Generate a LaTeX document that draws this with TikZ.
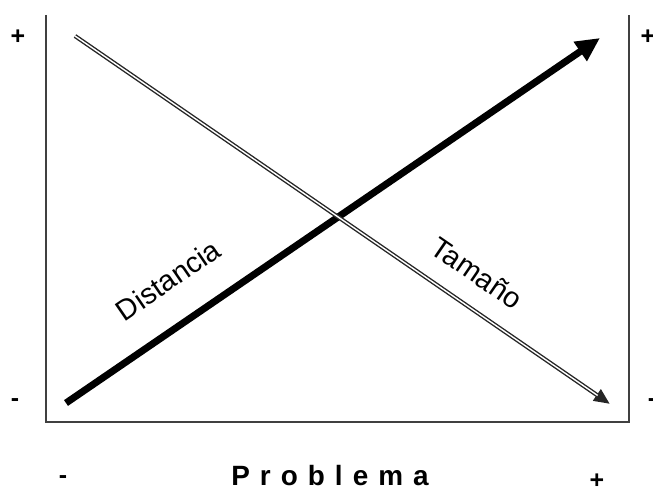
\documentclass[tikz,border=0pt]{standalone}
\usepackage{fontspec}
\setmainfont{Liberation Sans}
\usetikzlibrary{arrows.meta}
\begin{document}
\begin{tikzpicture}[x=1bp,y=-1bp,
  axisline/.style={draw=black!75,line width=1.4bp},
  sign/.style={font=\fontsize{25}{28}\selectfont\bfseries,inner sep=0pt},
  lbl/.style={font=\fontsize{29}{32}\selectfont,inner sep=0pt}]
\useasboundingbox (0,0) rectangle (653,489);
% frame
\coordinate (tl) at (46,15);
\coordinate (bl) at (46,422);
\coordinate (br) at (629,422);
\coordinate (tr) at (629,15);
\draw[axisline] (tl) -- (bl) -- (br) -- (tr);
% arrows
\coordinate (ds) at (66,403);
\coordinate (de) at (600,38);
\coordinate (ts) at (75,36);
\coordinate (te) at (610,404);
\draw[line width=7bp,-{Triangle[length=24bp,width=22bp]}] (ds) -- (de);
\draw[black!85,line width=4.2bp,-{Triangle[length=16bp,width=13bp]}] (ts) -- (te);
\draw[white,line width=1.4bp,shorten >=15bp] (ts) -- (te);
% labels
\node[lbl,rotate=34.4] (dist) at (168,280) {Distancia};
\node[lbl,rotate=-34.5] (tam) at (477,273) {Tamaño};
% signs
\node[sign] (p1) at (18,37) {+};
\node[sign] (p2) at (648,37) {+};
\node[sign] (m1) at (15,403) {-};
\node[sign] (m2) at (652,403) {-};
\node[sign] (m3) at (63,480) {-};
\node[sign] (p3) at (597,481) {+};
\node[font=\fontsize{28}{30}\selectfont\bfseries\addfontfeature{LetterSpace=36},inner sep=0pt] (prob) at (330,476) {Problema};
\end{tikzpicture}
\end{document}
